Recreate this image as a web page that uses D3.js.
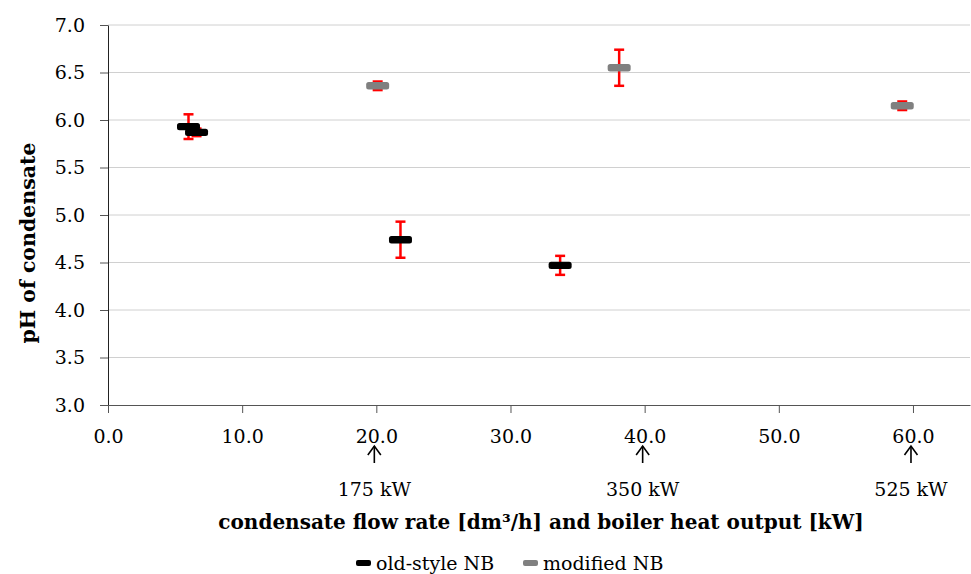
<!DOCTYPE html>
<html><head><meta charset="utf-8">
<script src="https://cdn.jsdelivr.net/npm/d3@7"></script>
<style>body{margin:0;background:#fff}svg{display:block}</style>
</head><body>
<div id="chart"></div>
<script>
// ---- data ----
const oldX   = [6.0, 6.6, 21.8, 33.7];
const oldY   = [5.93, 5.87, 4.74, 4.47];
const oldErr = [0.13, 0.04, 0.19, 0.10];
const modX   = [20.1, 38.1, 59.2];
const modY   = [6.36, 6.55, 6.15];
const modErr = [0.045, 0.19, 0.045];
const xTicks = [0, 10, 20, 30, 40, 50, 60];
const yTicks = [3.0, 3.5, 4.0, 4.5, 5.0, 5.5, 6.0, 6.5, 7.0];
const powerX = [20, 40, 60];
const powerLabels = ["175 kW", "350 kW", "525 kW"];
const seriesNames = ["old-style NB", "modified NB"];

const W = 971, H = 574;
const FONT = "'DejaVu Serif', 'Liberation Serif', serif";
const svg = d3.select("#chart").append("svg").attr("width", W).attr("height", H)
  .style("font-family", FONT);

const x = d3.scaleLinear().domain([0, 64.25]).range([108, 970]);
const y = d3.scaleLinear().domain([3, 7]).range([405, 25]);

// gridlines
svg.append("g").selectAll("line").data(yTicks.slice(1)).join("line")
  .attr("x1", 108).attr("x2", 970)
  .attr("y1", d => y(d)).attr("y2", d => y(d))
  .attr("stroke", "#d0d0d0").attr("stroke-width", 1);

// axes
const yAxis = d3.axisLeft(y).tickValues(yTicks).tickFormat(d3.format(".1f")).tickSize(8).tickSizeOuter(0);
const gy = svg.append("g").attr("transform", "translate(108,0)").call(yAxis);
gy.select(".domain").attr("stroke", "#222");
gy.selectAll(".tick line").attr("stroke", "#555");
gy.selectAll("text").attr("font-size", 19).attr("fill", "#000").attr("x", -23)
  .style("font-family", FONT);

const xAxis = d3.axisBottom(x).tickValues(xTicks).tickFormat(d3.format(".1f")).tickSize(8).tickSizeOuter(0);
const gx = svg.append("g").attr("transform", "translate(0,405)").call(xAxis);
gx.select(".domain").attr("stroke", "#555");
gx.selectAll(".tick line").attr("stroke", "#555");
gx.selectAll("text").attr("font-size", 19).attr("fill", "#000").attr("y", 38).attr("dy", 0)
  .style("font-family", FONT);

// power arrows + labels
const pg = svg.append("g");
powerX.forEach((v, i) => {
  const px = x(v) - 2;
  pg.append("line").attr("x1", px).attr("x2", px).attr("y1", 446).attr("y2", 463)
    .attr("stroke", "#000").attr("stroke-width", 1.6);
  pg.append("path").attr("d", `M${px-6.5},${455} L${px},${446} L${px+6.5},${455}`)
    .attr("fill", "none").attr("stroke", "#000").attr("stroke-width", 1.6);
  pg.append("text").attr("x", px).attr("y", 496).attr("text-anchor", "middle")
    .attr("font-size", 19).text(powerLabels[i]);
});

// axis titles
svg.append("text").attr("x", 541).attr("y", 529).attr("text-anchor", "middle")
  .attr("font-size", 20).attr("font-weight", "bold")
  .text("condensate flow rate [dm³/h] and boiler heat output [kW]");
svg.append("text").attr("transform", "translate(35,243) rotate(-90)")
  .attr("text-anchor", "middle").attr("font-size", 20.5).attr("font-weight", "bold")
  .text("pH of condensate");

// series drawing
function drawSeries(xs, ys, es, color) {
  const g = svg.append("g");
  xs.forEach((xv, i) => {
    const cx = x(xv);
    const top = y(ys[i] + es[i]), bot = y(ys[i] - es[i]);
    g.append("line").attr("x1", cx).attr("x2", cx).attr("y1", top).attr("y2", bot)
      .attr("stroke", "#ff0000").attr("stroke-width", 2.5);
    [top, bot].forEach(yy => g.append("line").attr("x1", cx - 5).attr("x2", cx + 5)
      .attr("y1", yy).attr("y2", yy).attr("stroke", "#ff0000").attr("stroke-width", 2.5));
  });
  xs.forEach((xv, i) => {
    const cx = x(xv), cy = y(ys[i]);
    g.append("rect").attr("x", cx - 11.5).attr("y", cy - 3.7).attr("width", 23).attr("height", 7.4)
      .attr("rx", 2.5).attr("fill", color);
  });
}
drawSeries(oldX, oldY, oldErr, "#000000");
drawSeries(modX, modY, modErr, "#808080");

// legend
const lg = svg.append("g");
const legendItems = [{name: seriesNames[0], color: "#000", x: 356}, {name: seriesNames[1], color: "#808080", x: 523}];
legendItems.forEach(it => {
  lg.append("rect").attr("x", it.x).attr("y", 560).attr("width", 15).attr("height", 6)
    .attr("rx", 2).attr("fill", it.color);
  lg.append("text").attr("x", it.x + 20).attr("y", 570).attr("font-size", 19).text(it.name);
});
</script>
</body></html>
